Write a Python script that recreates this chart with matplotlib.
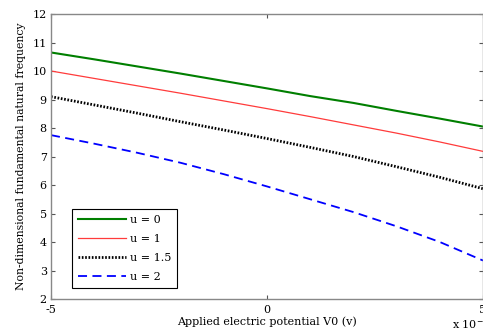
import matplotlib
matplotlib.use("Agg")
import matplotlib.pyplot as plt

x_vals = [-5, -4, -3, -2, -1, 0, 1, 2, 3, 4, 5]  # units of 1e-3
u0 = [10.65, 10.41, 10.16, 9.91, 9.65, 9.39, 9.12, 8.88, 8.60, 8.33, 8.05]
u1 = [10.0, 9.74, 9.48, 9.22, 8.95, 8.68, 8.40, 8.11, 7.82, 7.51, 7.18]
u15 = [9.1, 8.81, 8.52, 8.22, 7.93, 7.63, 7.32, 7.00, 6.64, 6.27, 5.87]
u2 = [7.75, 7.45, 7.13, 6.78, 6.38, 5.95, 5.50, 5.05, 4.55, 4.00, 3.35]
labels = ["u = 0", "u = 1", "u = 1.5", "u = 2"]
xticks = [-5, 0, 5]
yticks = [2, 3, 4, 5, 6, 7, 8, 9, 10, 11, 12]

plt.rcParams['font.family'] = ['DejaVu Serif']
fig = plt.figure(figsize=(4.83, 3.32), dpi=100)
ax = fig.add_axes([0.1056, 0.0994, 0.8944, 0.8584])

ax.plot(x_vals, u0, color='#007f00', lw=1.5, label=labels[0])
ax.plot(x_vals, u1, color='#ff3b3b', lw=0.9, label=labels[1])
ax.plot(x_vals, u15, color='black', lw=2.0, linestyle=(0, (0.6, 0.6)), label=labels[2])
ax.plot(x_vals, u2, color='#0000ff', lw=1.3, linestyle=(0, (5, 3)), label=labels[3])

ax.set_xlim(-5, 5)
ax.set_ylim(2, 12)
ax.set_xticks(xticks)
ax.set_xticklabels(['-5', '0', '5'])
ax.set_yticks(yticks)
ax.tick_params(direction='in', top=True, right=True, labelsize=8, length=3, color='#555555', pad=3)
ax.tick_params(axis='x', pad=4)
for s in ax.spines.values():
    s.set_color('#888888')
    s.set_linewidth(1.0)

ax.set_xlabel('Applied electric potential V0 (v)', fontsize=8, labelpad=1)
ax.set_ylabel('Non-dimensional fundamental natural frequency', fontsize=7.8, labelpad=5)
fig.text(0.935, 0.0, r'x 10$^{-3}$', fontsize=8, ha='left', va='bottom')

leg = ax.legend(loc='lower left', bbox_to_anchor=(0.035, 0.02), fontsize=8,
                fancybox=False, framealpha=1, edgecolor='black', handlelength=4.3,
                borderpad=0.55, labelspacing=0.8, handletextpad=0.4)
leg.get_frame().set_linewidth(0.8)

fig.savefig('out.png', dpi=100)
